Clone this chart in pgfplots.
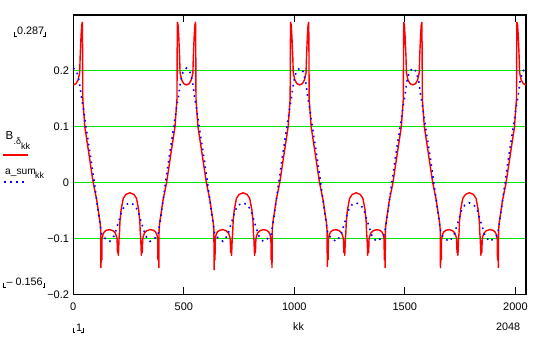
\documentclass[border=0pt]{standalone}
\usepackage{pgfplots}
\usepackage{pgfplotstable}
\pgfplotsset{compat=1.18}
\usepackage{fontspec}
\setmainfont{Liberation Sans}
\definecolor{mcgreen}{RGB}{0,230,0}
\definecolor{mcred}{RGB}{255,0,0}
\definecolor{mcblue}{RGB}{0,0,255}

\pgfplotstableread{
t v
0 0.175
12 0.177
22 0.184
29 0.197
31 0.225
35 0.262
38 0.282
41 0.287
42 0.240
43 0.150
52 0.100
70 0.053
90 0.000
106 -0.031
121 -0.071
124 -0.085
125 -0.152
127 -0.118
129 -0.138
130 -0.101
134 -0.093
140 -0.088
150 -0.085
165 -0.084
180 -0.086
190 -0.090
196 -0.097
198 -0.101
200 -0.125
202 -0.105
204 -0.130
207 -0.100
209 -0.090
211 -0.070
216 -0.049
226 -0.028
238 -0.021
256 -0.018
274 -0.021
286 -0.028
296 -0.049
301 -0.070
303 -0.090
305 -0.100
308 -0.130
310 -0.105
312 -0.125
314 -0.101
316 -0.097
322 -0.090
332 -0.086
347 -0.084
362 -0.085
372 -0.088
378 -0.093
382 -0.101
383 -0.138
385 -0.118
387 -0.152
388 -0.085
391 -0.071
406 -0.031
422 0.000
442 0.053
460 0.100
469 0.150
470 0.240
471 0.287
474 0.282
477 0.262
481 0.225
483 0.197
490 0.184
500 0.177
512 0.175
524 0.177
534 0.184
541 0.197
543 0.225
547 0.262
550 0.282
553 0.287
554 0.240
555 0.150
564 0.100
582 0.053
602 0.000
618 -0.031
633 -0.071
636 -0.085
637 -0.156
639 -0.118
641 -0.138
642 -0.101
646 -0.093
652 -0.088
662 -0.085
677 -0.084
692 -0.086
702 -0.090
708 -0.097
710 -0.101
712 -0.125
714 -0.105
716 -0.130
719 -0.100
721 -0.090
723 -0.070
728 -0.049
738 -0.028
750 -0.021
768 -0.018
786 -0.021
798 -0.028
808 -0.049
813 -0.070
815 -0.090
817 -0.100
820 -0.130
822 -0.105
824 -0.125
826 -0.101
828 -0.097
834 -0.090
844 -0.086
859 -0.084
874 -0.085
884 -0.088
890 -0.093
894 -0.101
895 -0.138
897 -0.118
899 -0.152
900 -0.085
903 -0.071
918 -0.031
934 0.000
954 0.053
972 0.100
981 0.150
982 0.240
983 0.287
986 0.282
989 0.262
993 0.225
995 0.197
1002 0.184
1012 0.177
1024 0.175
1036 0.177
1046 0.184
1053 0.197
1055 0.225
1059 0.262
1062 0.282
1065 0.287
1066 0.240
1067 0.150
1076 0.100
1094 0.053
1114 0.000
1130 -0.031
1145 -0.071
1148 -0.085
1149 -0.150
1151 -0.118
1153 -0.138
1154 -0.101
1158 -0.093
1164 -0.088
1174 -0.085
1189 -0.084
1204 -0.086
1214 -0.090
1220 -0.097
1222 -0.101
1224 -0.125
1226 -0.105
1228 -0.130
1231 -0.100
1233 -0.090
1235 -0.070
1240 -0.049
1250 -0.028
1262 -0.021
1280 -0.018
1298 -0.021
1310 -0.028
1320 -0.049
1325 -0.070
1327 -0.090
1329 -0.100
1332 -0.130
1334 -0.105
1336 -0.125
1338 -0.101
1340 -0.097
1346 -0.090
1356 -0.086
1371 -0.084
1386 -0.085
1396 -0.088
1402 -0.093
1406 -0.101
1407 -0.138
1409 -0.118
1411 -0.152
1412 -0.085
1415 -0.071
1430 -0.031
1446 0.000
1466 0.053
1484 0.100
1493 0.150
1494 0.240
1495 0.287
1498 0.282
1501 0.262
1505 0.225
1507 0.197
1514 0.184
1524 0.177
1536 0.175
1548 0.177
1558 0.184
1565 0.197
1567 0.225
1571 0.262
1574 0.282
1577 0.287
1578 0.240
1579 0.150
1588 0.100
1606 0.053
1626 0.000
1642 -0.031
1657 -0.071
1660 -0.085
1661 -0.152
1663 -0.118
1665 -0.138
1666 -0.101
1670 -0.093
1676 -0.088
1686 -0.085
1701 -0.084
1716 -0.086
1726 -0.090
1732 -0.097
1734 -0.101
1736 -0.125
1738 -0.105
1740 -0.130
1743 -0.100
1745 -0.090
1747 -0.070
1752 -0.049
1762 -0.028
1774 -0.021
1792 -0.018
1810 -0.021
1822 -0.028
1832 -0.049
1837 -0.070
1839 -0.090
1841 -0.100
1844 -0.130
1846 -0.105
1848 -0.125
1850 -0.101
1852 -0.097
1858 -0.090
1868 -0.086
1883 -0.084
1898 -0.085
1908 -0.088
1914 -0.093
1918 -0.101
1919 -0.138
1921 -0.118
1923 -0.152
1924 -0.085
1927 -0.071
1942 -0.031
1958 0.000
1978 0.053
1996 0.100
2005 0.150
2006 0.240
2007 0.287
2010 0.282
2013 0.262
2017 0.225
2019 0.197
2026 0.184
2036 0.177
2048 0.175
}\redtab

\pgfplotstableread{
t v
0 0.205
15 0.199
27 0.181
36 0.155
45 0.134
57 0.101
80 0.042
95 0.000
115 -0.058
128 -0.092
145 -0.100
165 -0.105
185 -0.095
205 -0.070
220 -0.050
235 -0.040
256 -0.036
277 -0.040
292 -0.050
307 -0.070
327 -0.095
347 -0.105
367 -0.100
384 -0.092
397 -0.058
417 0.000
432 0.042
455 0.101
467 0.134
476 0.155
485 0.181
497 0.199
512 0.205
527 0.199
539 0.181
548 0.155
557 0.134
569 0.101
592 0.042
607 0.000
627 -0.058
640 -0.092
657 -0.100
677 -0.105
697 -0.095
717 -0.070
732 -0.050
747 -0.040
768 -0.036
789 -0.040
804 -0.050
819 -0.070
839 -0.095
859 -0.105
879 -0.100
896 -0.092
909 -0.058
929 0.000
944 0.042
967 0.101
979 0.134
988 0.155
997 0.181
1009 0.199
1024 0.205
1039 0.199
1051 0.181
1060 0.155
1069 0.134
1081 0.101
1104 0.042
1119 0.000
1139 -0.058
1152 -0.092
1169 -0.100
1189 -0.105
1209 -0.095
1229 -0.070
1244 -0.050
1259 -0.040
1280 -0.036
1301 -0.040
1316 -0.050
1331 -0.070
1351 -0.095
1371 -0.105
1391 -0.100
1408 -0.092
1421 -0.058
1441 0.000
1456 0.042
1479 0.101
1491 0.134
1500 0.155
1509 0.181
1521 0.199
1536 0.205
1551 0.199
1563 0.181
1572 0.155
1581 0.134
1593 0.101
1616 0.042
1631 0.000
1651 -0.058
1664 -0.092
1681 -0.100
1701 -0.105
1721 -0.095
1741 -0.070
1756 -0.050
1771 -0.040
1792 -0.036
1813 -0.040
1828 -0.050
1843 -0.070
1863 -0.095
1883 -0.105
1903 -0.100
1920 -0.092
1933 -0.058
1953 0.000
1968 0.042
1991 0.101
2003 0.134
2012 0.155
2021 0.181
2033 0.199
2048 0.205
}\bluetab

\begin{document}
\fontsize{10.8}{13}\selectfont
\begin{tikzpicture}[x=1pt,y=1pt]
\path[use as bounding box] (0pt,0pt) rectangle (550pt,342pt);
\begin{axis}[
  at={(73.3pt,47.5pt)}, anchor=south west,
  width=452.7pt, height=279.5pt, scale only axis,
  xmin=0, xmax=2048, ymin=-0.2, ymax=0.3,
  xtick={0,500,1000,1500,2000},
  xticklabels={0,500,1000,1500,2000},
  ytick={-0.2,-0.1,0,0.1,0.2},
  yticklabels={−0.2,−0.1,0,0.1,0.2},
  /pgf/number format/assume math mode=true,
  ymajorgrids,
  grid style={mcgreen, line width=1.1pt},
  major grid style={mcgreen, line width=1.1pt},
  y grid style={mcgreen, line width=1.1pt},
  axis line style={black, line width=1.4pt},
  tick align=inside,
  xtick pos=both,
  major tick length=7pt,
  xtick style={black, line width=1pt},
  ytick style={draw=none},
  tick label style={font=\fontsize{11}{13}\selectfont},
  xticklabel style={yshift=-4.5pt},
  yticklabel style={xshift=-0.5pt},
  axis on top=false,
]
\addplot[mcred, line width=1.4pt, line join=round] table[x=t,y=v] {\redtab};
\addplot[mcblue, line width=1.6pt, dash pattern=on 1.6pt off 4.4pt] table[x=t,y=v] {\bluetab};
\end{axis}

% limit labels with Mathcad-style corner marks
\node[anchor=base west, inner sep=0pt] at (16.8pt,307pt) {0.287};
\draw[line width=0.8pt] (14.8pt,310pt) -- (14.8pt,306pt) -- (16.8pt,306pt);
\draw[line width=0.8pt] (45.2pt,310pt) -- (45.2pt,306pt) -- (43.2pt,306pt);

\node[anchor=base west, inner sep=0pt] at (6.5pt,56pt) {– 0.156};
\draw[line width=0.8pt] (3.8pt,59pt) -- (3.8pt,55pt) -- (5.8pt,55pt);
\draw[line width=0.8pt] (44.5pt,59pt) -- (44.5pt,55pt) -- (42.5pt,55pt);

\node[anchor=base west, inner sep=0pt] at (75.8pt,10.5pt) {1};
\draw[line width=0.8pt] (73.2pt,14pt) -- (73.2pt,10pt) -- (75.2pt,10pt);
\draw[line width=0.8pt] (83.2pt,14pt) -- (83.2pt,10pt) -- (81.2pt,10pt);

\node[anchor=base west, inner sep=0pt] at (496pt,11pt) {2048};
\node[anchor=base west, inner sep=0pt] at (293pt,11pt) {kk};

% legend
\node[anchor=base west, inner sep=0pt] at (5.5pt,202pt) {\fontsize{11.5}{13}\selectfont B};
\node[anchor=base west, inner sep=0pt] at (13.5pt,197pt) {\fontsize{9}{10}\selectfont .δ};
\node[anchor=base west, inner sep=0pt] at (21pt,192pt) {\fontsize{9}{10}\selectfont kk};
\draw[mcred, line width=1.4pt] (3.3pt,187pt) -- (28.3pt,187pt);

\node[anchor=base west, inner sep=0pt] at (5pt,167pt) {\fontsize{10.2}{11}\selectfont a\_sum};
\node[anchor=base west, inner sep=0pt] at (35pt,163.5pt) {\fontsize{8.8}{10}\selectfont kk};
\draw[mcblue, line width=1.6pt, dash pattern=on 1.6pt off 4.4pt] (4pt,160pt) -- (24pt,160pt);
\end{tikzpicture}
\end{document}
